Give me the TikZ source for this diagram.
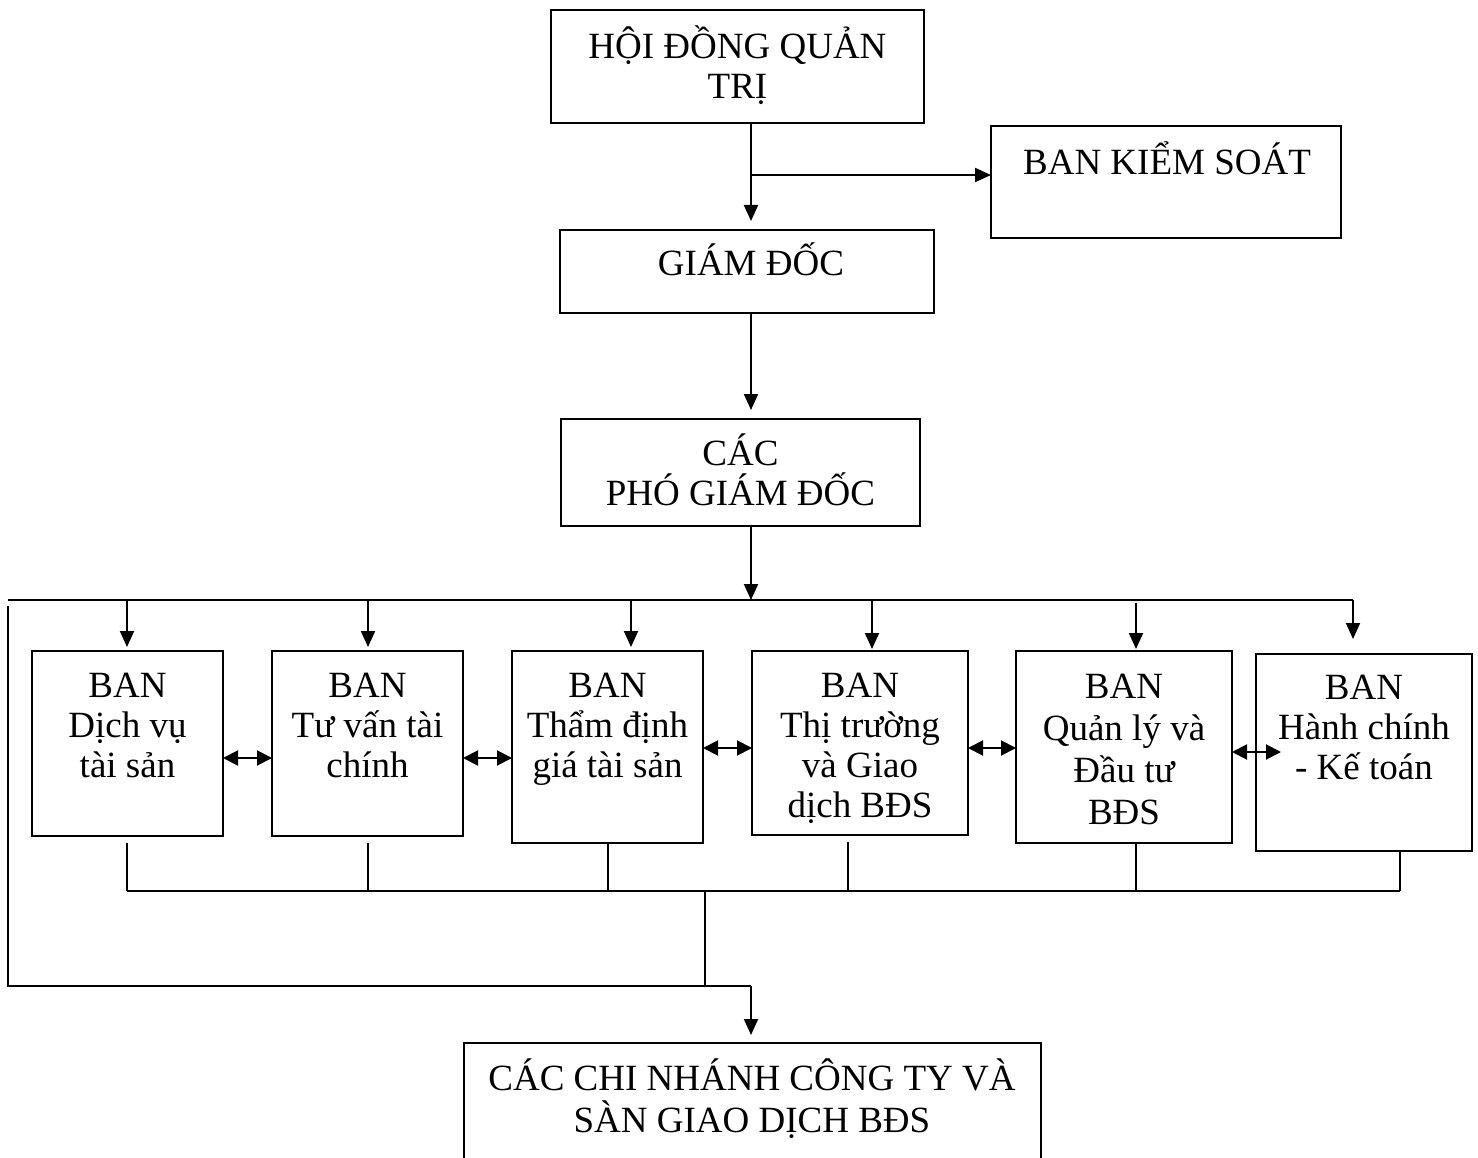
\documentclass[tikz,border=0pt]{standalone}
\usepackage{fontspec}
\setmainfont{Liberation Serif}
\usetikzlibrary{arrows.meta}
\tikzset{
  box/.style 2 args={draw, line width=2.2pt, anchor=north west, inner sep=0pt, outer sep=0pt, minimum width=#1pt, minimum height=#2pt},
  txt/.style={anchor=base, align=center, inner sep=0pt, font=\fontsize{37}{40}\selectfont},
  ln/.style={line width=2pt},
  arr/.style={line width=2pt, -{Triangle[length=16pt,width=14pt]}},
  dbl/.style={line width=2pt, {Triangle[length=15pt,width=15pt]}-{Triangle[length=15pt,width=15pt]}}
}
\begin{document}
\begin{tikzpicture}[x=1pt,y=-1pt]
\useasboundingbox (0,0) rectangle (1478,1158);
% boxes (text nodes anchored at the baseline of their last line)
\node[box={373}{113}] (hdqt) at (551,10) {};
\node[txt] (thdqt) at (737.5,99) {HỘI ĐỒNG QUẢN\\TRỊ};
\node[box={350}{112}] (bks) at (991,126) {};
\node[txt] (tbks) at (1167,175) {BAN KIỂM SOÁT};
\node[box={374}{83}] (gd) at (560,230) {};
\node[txt] (tgd) at (751,276) {GIÁM ĐỐC};
\node[box={359}{107}] (pgd) at (561,419) {};
\node[txt] (tpgd) at (740.5,505) {CÁC\\PHÓ GIÁM ĐỐC};
\node[box={191}{185}] (b1) at (32,651) {};
\node[txt] (tb1) at (127.5,777) {BAN\\Dịch vụ\\tài sản};
\node[box={191}{185}] (b2) at (272,651) {};
\node[txt] (tb2) at (367.5,777) {BAN\\Tư vấn tài\\chính};
\node[box={191}{192}] (b3) at (512,651) {};
\node[txt] (tb3) at (607.5,777) {BAN\\Thẩm định\\giá tài sản};
\node[box={216}{184}] (b4) at (752,651) {};
\node[txt] (tb4) at (860,817) {BAN\\Thị trường\\và Giao\\dịch BĐS};
\node[box={216}{192}] (b5) at (1016,651) {};
\node[txt, font=\fontsize{37}{42}\selectfont] (tb5) at (1124,824) {BAN\\Quản lý và\\Đầu tư\\BĐS};
\node[box={216}{197}] (b6) at (1256,654) {};
\node[txt] (tb6) at (1364,779) {BAN\\Hành chính\\- Kế toán};
\node[box={577}{160}] (cn) at (464,1043) {};
\node[txt, font=\fontsize{37}{42}\selectfont] (tcn) at (752,1132) {CÁC CHI NHÁNH CÔNG TY VÀ\\SÀN GIAO DỊCH BĐS};
% top connectors
\coordinate (j1) at (751,175);
\draw[arr, shorten >=9pt] (hdqt.south -| j1) -- (gd.north -| j1);
\draw[arr] (j1) -- (j1 -| bks.west);
\draw[arr, shorten >=9pt] (gd.south -| j1) -- (pgd.north -| j1);
\coordinate (bus) at (751,600);
\draw[arr] (pgd.south -| j1) -- (bus);
\coordinate (busL) at (8,600);
\coordinate (busR) at (1353,600);
\draw[ln] (busL) -- (busR);
% arrows down to departments
\coordinate (a1) at (127,600);
\coordinate (a2) at (368,600);
\coordinate (a3) at (631,600);
\coordinate (a4) at (872,600);
\coordinate (a5) at (1136,603);
\coordinate (a6) at (1353,600);
\draw[arr, shorten >=4pt] (a1) -- (a1 |- b1.north);
\draw[arr, shorten >=4pt] (a2) -- (a2 |- b2.north);
\draw[arr, shorten >=4pt] (a3) -- (a3 |- b3.north);
\draw[arr, shorten >=2pt] (a4) -- (a4 |- b4.north);
\draw[arr, shorten >=2pt] (a5) -- (a5 |- b5.north);
\draw[arr, shorten >=15pt] (a6) -- (a6 |- b6.north);
% double arrows
\coordinate (d12) at (0,758);
\coordinate (d23) at (0,758);
\coordinate (d34) at (0,748);
\coordinate (d45) at (0,748);
\coordinate (d56) at (0,752);
\coordinate (d56e) at (1281,752);
\draw[dbl] (b1.east |- d12) -- (b2.west |- d12);
\draw[dbl] (b2.east |- d23) -- (b3.west |- d23);
\draw[dbl] (b3.east |- d34) -- (b4.west |- d34);
\draw[dbl] (b4.east |- d45) -- (b5.west |- d45);
\draw[dbl] (b5.east |- d56) -- (d56e);
% bottom collector
\coordinate (s1) at (127,891);
\coordinate (s2) at (368,891);
\coordinate (s3) at (608,891);
\coordinate (s4) at (848,891);
\coordinate (s5) at (1136,891);
\coordinate (s6) at (1400,891);
\draw[ln, shorten <=7pt] (s1 |- b1.south) -- (s1);
\draw[ln, shorten <=7pt] (s2 |- b2.south) -- (s2);
\draw[ln] (s3 |- b3.south) -- (s3);
\draw[ln, shorten <=7pt] (s4 |- b4.south) -- (s4);
\draw[ln] (s5 |- b5.south) -- (s5);
\draw[ln] (s6 |- b6.south) -- (s6);
\draw[ln] (s1) -- (s6);
\coordinate (m1) at (705,891);
\coordinate (m2) at (705,986);
\draw[ln] (m1) -- (m2);
% left loop
\coordinate (L1) at (8,606);
\coordinate (L2) at (8,986);
\coordinate (cnin) at (751,986);
\draw[ln] (L1) -- (L2) -- (cnin);
\draw[arr, shorten >=8pt] (cnin) -- (cnin |- cn.north);
\end{tikzpicture}
\end{document}
